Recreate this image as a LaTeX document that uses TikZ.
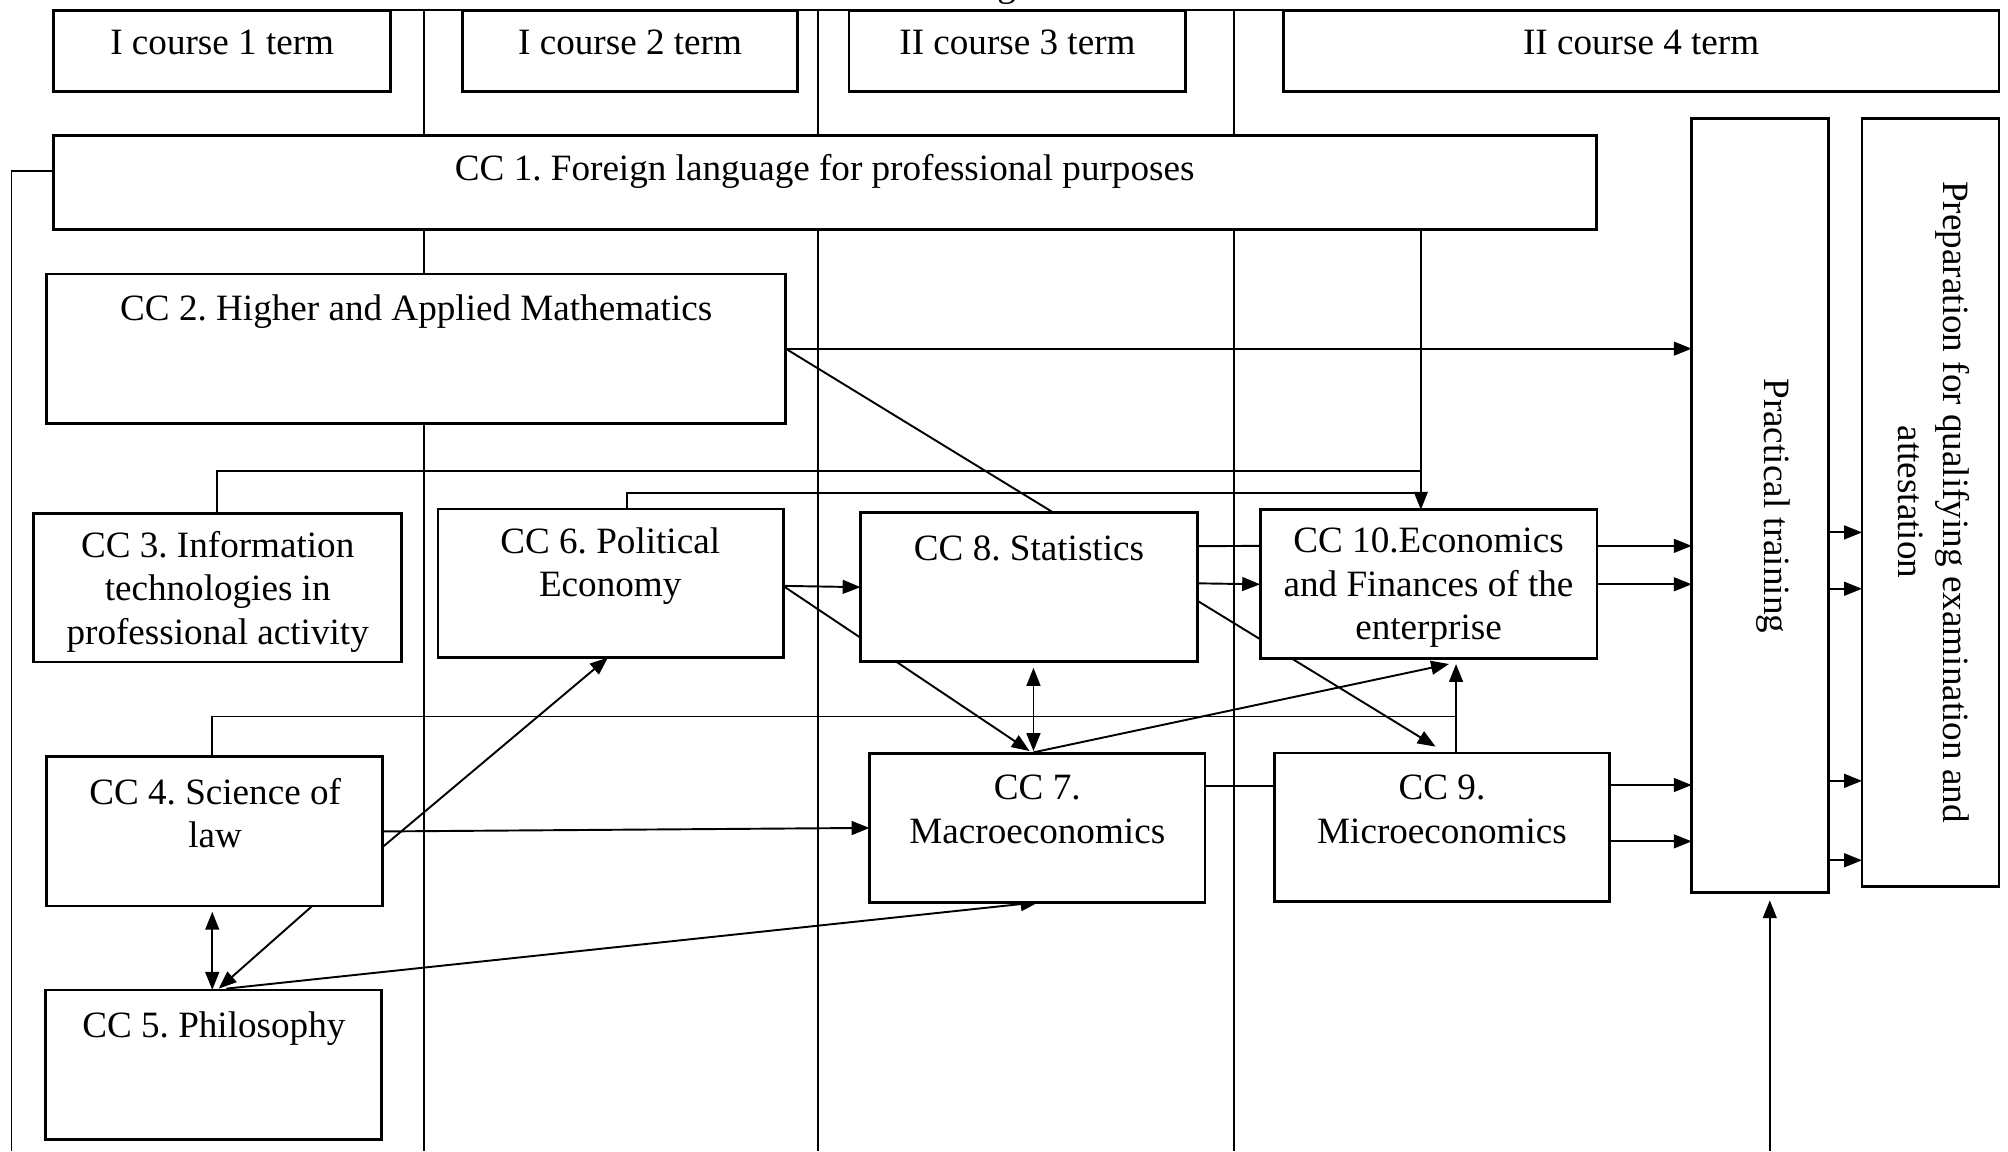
\documentclass[tikz,border=0pt]{standalone}
\usepackage{fontspec}
\setmainfont{Liberation Serif}
\usetikzlibrary{arrows.meta,calc,backgrounds}
\newcommand\mybox[5]{\node[box, minimum width=#4*0.5pt, minimum height=#5*0.5pt] (#1) at (#2,#3) {};}
\frenchspacing
\begin{document}
\begin{tikzpicture}[x=0.5pt,y=-0.5pt,
  box/.style={draw, line width=1.1pt, fill=white, inner sep=0pt, outer sep=0pt, anchor=north west},
  txt/.style={font=\fontsize{14.5}{17}\selectfont, align=center, inner sep=0pt},
  conn/.style={line width=0.75pt},
  arr/.style={conn, -{Triangle[length=7pt,width=5.4pt]}},
  darr/.style={conn, {Triangle[length=7pt,width=5.4pt]}-{Triangle[length=7pt,width=5.4pt]}},
  divider/.style={line width=0.7pt}]
\useasboundingbox (0,0) rectangle (1568,899);

% boxes
\mybox{t1}{42}{8}{263}{63.5}
\mybox{t2}{361}{8}{262}{63.5}
\mybox{t3}{663}{8}{263}{63.5}
\mybox{t4}{1002}{8}{559}{63.5}
\mybox{cc1}{42}{105.5}{1204.5}{74}
\mybox{cc2}{36.5}{214}{577}{116.5}
\mybox{cc3}{26}{401}{287.5}{116}
\mybox{cc6}{342}{397.5}{269.5}{116}
\mybox{cc8}{672}{400.5}{263}{116}
\mybox{cc10}{984}{398}{263}{116.5}
\mybox{cc4}{36.5}{591}{262.5}{116.5}
\mybox{cc7}{679}{588.5}{262}{116}
\mybox{cc9}{995}{588}{262}{116}
\mybox{cc5}{35.5}{773}{262.5}{116.5}
\mybox{pt}{1321}{92.5}{107}{604.5}
\mybox{pr}{1454}{92.5}{107}{599.5}

% texts
\node[txt, anchor=base] (ttl) at (786,-2.5) {g};
\node[txt] (t1t) at (173.5,33) {I course 1 term};
\node[txt] (t2t) at (492,33) {I course 2 term};
\node[txt] (t3t) at (794.5,33) {II course 3 term};
\node[txt] (t4t) at (1281.5,33) {II course 4 term};
\node[txt] (cc1t) at (644,134) {CC 1. Foreign language for professional purposes};
\node[txt] (cc2t) at (325,243) {CC 2. Higher and Applied Mathematics};
\node[txt] (cc3t) at (170,462) {CC 3. Information\\technologies in\\professional activity};
\node[txt] (cc6t) at (476.5,442) {CC 6. Political\\Economy};
\node[txt] (cc8t) at (803.5,428) {CC 8. Statistics};
\node[txt] (cc10t) at (1115.5,459) {CC 10.Economics\\and Finances of the\\enterprise};
\node[txt] (cc4t) at (168,635) {CC 4. Science of\\law};
\node[txt] (cc7t) at (810,632) {CC 7.\\Macroeconomics};
\node[txt] (cc9t) at (1126,632) {CC 9.\\Microeconomics};
\node[txt] (cc5t) at (167,803) {CC 5. Philosophy};
\node[txt, rotate=-90] (ptt) at (1385,395) {Practical training};
\node[txt, rotate=-90, font=\fontsize{14.5}{17.5}\selectfont] (prt) at (1510,392) {Preparation for qualifying examination and\\attestation};

\begin{pgfonlayer}{background}
  % column dividers
  \coordinate (d1) at (331,899);
  \coordinate (d2) at (639,899);
  \coordinate (d3) at (963.5,899);
  \draw[divider] (t1.north east) -- (t4.north west);
  \draw[divider] (t1.north east -| d1) -- (d1);
  \draw[divider] (t1.north east -| d2) -- (d2);
  \draw[divider] (t1.north east -| d3) -- (d3);
  % left line from CC1
  \coordinate (lft) at (9,899);
  \draw[conn] ($(cc1.west)+(0,-9)$) -| (lft);
  % CC2
  \draw[arr] (cc2.east) -- (cc2.east -| pt.west);
  \draw[arr] (cc2.east) -- ($(cc9.north)+(-5,-5)$);
  % CC1, CC3, CC6 -> CC10
  \coordinate (j10) at (1109.5,367.5);
  \coordinate (j6) at (1109.5,385);
  \draw[arr] (cc1.south -| j10) -- (cc10.north -| j10);
  \draw[conn] (cc3.north) |- (j10);
  \draw[conn] ($(cc6.north)+(13,0)$) |- (j6);
  % CC6
  \draw[arr] ($(cc6.east)+(0,2)$) -- (cc8.west);
  \draw[arr] ($(cc6.east)+(0,2)$) -- ($(cc7.north)+(-6,-2)$);
  % CC8
  \draw[darr] ($(cc8.south)+(3.5,5)$) -- ($(cc8.south)+(3.5,70)$);
  \draw[conn] ($(cc8.east)+(0,-32)$) -- ($(cc10.west)+(0,-30)$);
  \draw[arr] ($(cc8.east)+(0,-3)$) -- (cc10.west);
  % CC7
  \draw[arr] ($(cc7.north)+(-3,-1)$) -- ($(cc10.south)+(16,4)$);
  \draw[conn] ($(cc7.east)+(0,-32.5)$) -- ($(cc9.west)+(0,-32)$);
  % CC9 -> CC10 and CC4 line
  \coordinate (j9) at (1137,559.5);
  \draw[arr] (cc9.north -| j9) -- ($(cc10.south -| j9)+(0,4)$);
  \draw[conn] ($(cc4.north)+(-2,0)$) |- (j9);
  % CC4
  \draw[arr] ($(cc4.east)+(0,12)$) -- ($(cc6.south)+(-2,0)$);
  \draw[arr] (cc4.east) -- (cc7.west);
  \draw[arr] ($(cc4.south)+(76,0)$) -- ($(cc5.north)+(4,-1)$);
  \draw[darr] ($(cc4.south)+(-2,4.5)$) -- ($(cc5.north)+(-1,0)$);
  % CC5 -> CC7
  \draw[arr] ($(cc5.north)+(10,-1)$) -- ($(cc7.south)+(1,0)$);
  % to practical training
  \draw[arr] ($(cc10.east)+(0,-30)$) -- ($(cc10.east -| pt.west)+(0,-30)$);
  \draw[arr] (cc10.east) -- (cc10.east -| pt.west);
  \draw[arr] ($(cc9.east)+(0,-33)$) -- ($(cc9.east -| pt.west)+(0,-33)$);
  \draw[arr] ($(cc9.east)+(0,11)$) -- ($(cc9.east -| pt.west)+(0,11)$);
  % practical -> preparation
  \draw[arr] ($(pt.east)+(0,21)$) -- ($(pt.east -| pr.west)+(0,21)$);
  \draw[arr] ($(pt.east)+(0,65)$) -- ($(pt.east -| pr.west)+(0,65)$);
  \draw[arr] ($(pt.east)+(0,215)$) -- ($(pt.east -| pr.west)+(0,215)$);
  \draw[arr] ($(pt.east)+(0,277)$) -- ($(pt.east -| pr.west)+(0,277)$);
  % from below into practical training
  \coordinate (pbot) at (1382,899);
  \draw[arr] (pbot) -- ($(pt.south -| pbot)+(0,6)$);
\end{pgfonlayer}
\end{tikzpicture}
\end{document}
